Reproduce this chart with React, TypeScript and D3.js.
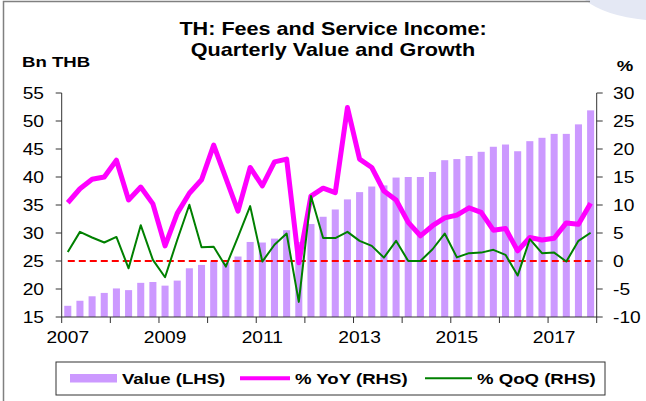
import React from "react";
import * as d3 from "d3";

const YEARS = ["2007","2008","2009","2010","2011","2012","2013","2014","2015","2016","2017"];
const QTRS = ["Q1","Q2","Q3","Q4"];
const quarters = YEARS.flatMap((y) => QTRS.map((q) => `${y}${q}`));

// Bn THB
const valueLHS = [17.0,17.9,18.7,19.3,20.1,19.8,21.1,21.25,20.6,21.5,23.7,24.3,24.9,24.7,25.8,28.4,28.3,29.0,30.5,28.4,31.6,32.9,34.2,36.0,37.3,38.3,38.5,39.9,40.0,40.0,40.9,43.0,43.2,43.75,44.5,45.4,45.8,44.6,46.4,47.0,47.7,47.7,49.4,51.9];
// % YoY
const yoyRHS = [10.4,12.9,14.6,15.0,18.0,10.9,13.2,10.2,2.7,8.5,12.1,14.5,20.7,14.8,8.9,16.7,13.4,17.7,18.2,-0.3,11.6,13.0,12.2,27.4,18.2,16.7,12.5,10.9,6.9,4.5,6.3,7.7,8.2,9.5,8.7,5.5,5.8,1.8,4.2,3.75,4.05,6.8,6.55,10.3];
// % QoQ
const qoqRHS = [1.6,5.2,4.2,3.3,4.3,-1.3,6.4,0.2,-2.9,3.75,10.05,2.45,2.55,-1.0,4.3,9.8,-0.1,2.9,4.9,-7.3,11.6,4.1,4.1,5.2,3.6,2.7,0.6,3.6,0.0,0.0,2.1,4.9,0.65,1.4,1.5,2.0,1.1,-2.6,3.9,1.4,1.5,-0.1,3.6,5.05];

const leftTicks = [15,20,25,30,35,40,45,50,55];
const rightTicks = [-10,-5,0,5,10,15,20,25,30];
const xLabels = ["2007","2009","2011","2013","2015","2017"];
const legendLabels = ["Value (LHS)", "% YoY (RHS)", "% QoQ (RHS)"];

const W = 646, H = 401;
const PL = 61.7, PR = 596.7, PT = 93, PB = 317;
const SX = 1.2;
const FONT = "'Liberation Sans', Arial, Helvetica, sans-serif";
const BAR = "#CC99FF", MAG = "#FF00FF", GRN = "#008000", AX = "#333333";

function T({ x, y, anchor = "start", size = 16, bold = false, children }: any) {
  return (
    <text
      transform={`translate(${x},${y}) scale(${SX},1)`}
      textAnchor={anchor}
      fontSize={size}
      fontWeight={bold ? "bold" : "normal"}
      fontFamily={FONT}
      fill="#000"
    >
      {children}
    </text>
  );
}

export default function App() {
  const x = d3.scaleBand<string>().domain(quarters).range([PL, PR]).paddingInner(0.42).paddingOuter(0.21);
  const step = x.step();
  const bw = x.bandwidth();
  const cx = (i: number) => (x(quarters[i]) as number) + bw / 2;
  const yL = d3.scaleLinear().domain([15, 55]).range([PB, PT]);
  const yR = d3.scaleLinear().domain([-10, 30]).range([PB, PT]);

  const line = d3.line<number>().x((_, i) => cx(i)).y((v) => yR(v));
  const yearTicks = d3.range(0, quarters.length + 1, 4).map((i) => PL + i * step);

  return (
    <svg width={W} height={H} style={{ position: "fixed", left: 0, top: 0, display: "block", background: "#fff" }}>
      {/* frame */}
      <path d="M585,0 Q605,16 646,20 V0 Z" fill="#e4e8f4" />
      <path d={`M3.5,${H} V1.5 H590`} fill="none" stroke="#808080" strokeWidth={1.5} />

      {/* title */}
      <T x={333} y={35} anchor="middle" size={18} bold>TH: Fees and Service Income:</T>
      <T x={333} y={56} anchor="middle" size={18} bold>Quarterly Value and Growth</T>
      <T x={22} y={66.5} size={15.5} bold>Bn THB</T>
      <T x={625} y={70.5} anchor="middle" size={15.5} bold>%</T>

      {/* bars */}
      {valueLHS.map((v, i) => (
        <rect key={i} x={x(quarters[i])} y={yL(v)} width={bw} height={yL(15) - yL(v)} fill={BAR} />
      ))}

      {/* zero line */}
      <line x1={cx(0)} x2={cx(quarters.length - 1)} y1={yR(0)} y2={yR(0)} stroke="#FF0000" strokeWidth={2} strokeDasharray="7,4" />

      {/* series */}
      <path d={line(yoyRHS) || ""} fill="none" stroke={MAG} strokeWidth={5} strokeLinejoin="round" />
      <path d={line(qoqRHS) || ""} fill="none" stroke={GRN} strokeWidth={2} strokeLinejoin="round" />

      {/* left axis */}
      <line x1={PL} x2={PL} y1={PT} y2={PB} stroke={AX} strokeWidth={1} />
      {leftTicks.map((t) => (
        <g key={t}>
          <line x1={PL - 6} x2={PL} y1={yL(t)} y2={yL(t)} stroke={AX} />
          <T x={44} y={yL(t) + 5.8} anchor="end" size={16}>{t}</T>
        </g>
      ))}

      {/* right axis */}
      <line x1={PR} x2={PR} y1={PT} y2={PB} stroke={AX} strokeWidth={1} />
      {rightTicks.map((t) => (
        <g key={t}>
          <line x1={PR} x2={PR + 6} y1={yR(t)} y2={yR(t)} stroke={AX} />
          <T x={613} y={yR(t) + 5.8} size={16}>{t}</T>
        </g>
      ))}

      {/* bottom axis */}
      <line x1={PL} x2={PR} y1={PB} y2={PB} stroke={AX} strokeWidth={1} />
      {yearTicks.map((tx, i) => (
        <line key={i} x1={tx} x2={tx} y1={PB} y2={PB + 6} stroke={AX} />
      ))}
      {xLabels.map((lab) => {
        const i = quarters.indexOf(`${lab}Q1`);
        return <T key={lab} x={cx(i)} y={343} anchor="middle" size={16}>{lab}</T>;
      })}

      {/* legend */}
      <rect x={56} y={362} width={549} height={33} fill="#fff" stroke={AX} strokeWidth={1} />
      <rect x={70} y={374} width={47} height={8.5} fill={BAR} />
      <T x={122} y={384} size={15.5} bold>{legendLabels[0]}</T>
      <line x1={240} x2={290} y1={378.3} y2={378.3} stroke={MAG} strokeWidth={4} />
      <T x={295} y={384} size={15.5} bold>{legendLabels[1]}</T>
      <line x1={425} x2={472} y1={378.3} y2={378.3} stroke={GRN} strokeWidth={2} />
      <T x={477} y={384} size={15.5} bold>{legendLabels[2]}</T>
    </svg>
  );
}
